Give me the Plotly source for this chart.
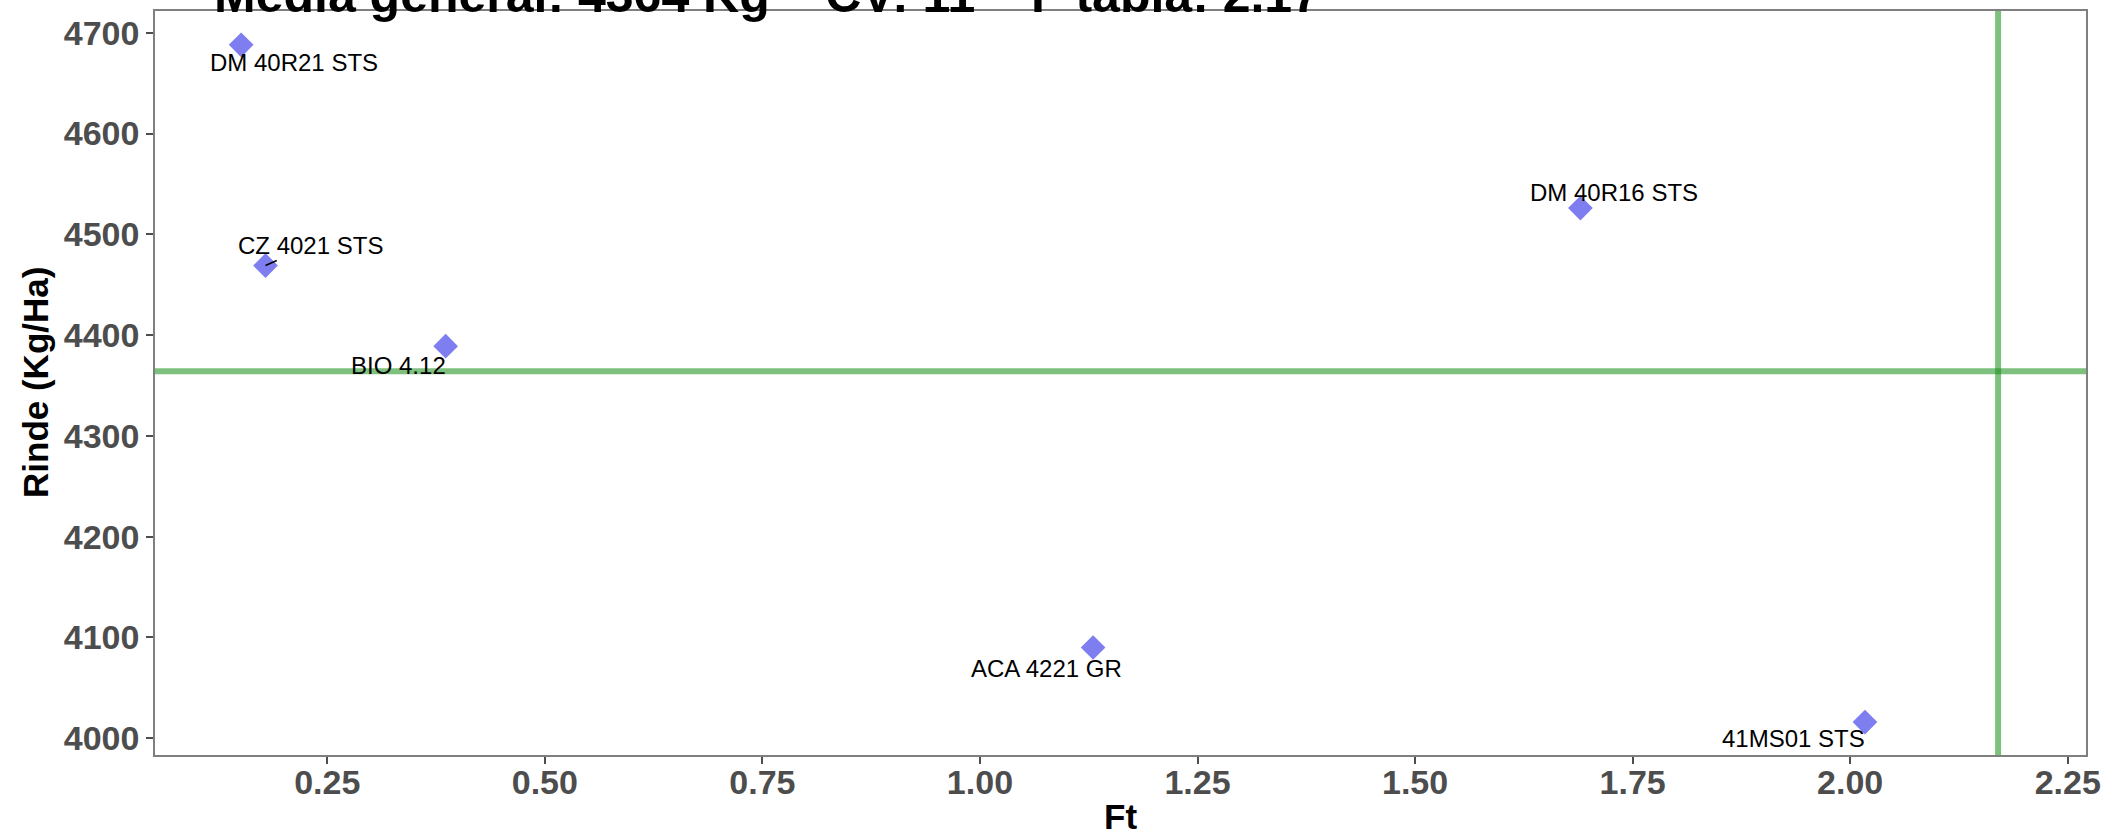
import plotly.graph_objects as go

# ---- data ----
cultivares = ["DM 40R21 STS", "CZ 4021 STS", "BIO 4.12", "ACA 4221 GR", "DM 40R16 STS", "41MS01 STS"]
ft = [0.151, 0.179, 0.386, 1.130, 1.690, 2.017]
rinde = [4688, 4469, 4389, 4090, 4526, 4016]
media_general = 4364
cv = 11
f_tabla = 2.17
x_ticks = [0.25, 0.50, 0.75, 1.00, 1.25, 1.50, 1.75, 2.00, 2.25]
y_ticks = [4000, 4100, 4200, 4300, 4400, 4500, 4600, 4700]

# ---- style / label placement (pixels) ----
label_offsets = {
    "DM 40R21 STS": (53, -18),
    "CZ 4021 STS": (45, 20),
    "BIO 4.12": (-47, -19),
    "ACA 4221 GR": (-47, -21),
    "DM 40R16 STS": (34, 16),
    "41MS01 STS": (-71, -16),
}
FONT = "Liberation Sans, Arial, sans-serif"
GREEN = "rgba(20,140,20,0.55)"
W, H = 2107, 837
M = dict(l=155, r=21, t=11, b=82)
PW, PH = W - M["l"] - M["r"], H - M["t"] - M["b"]

fig = go.Figure()
fig.add_trace(go.Scatter(
    x=ft, y=rinde, mode="markers",
    marker=dict(symbol="diamond", size=19, color="rgba(20,20,230,0.55)", line=dict(width=0)),
    hovertext=cultivares, showlegend=False,
))

fig.add_shape(type="line", xref="x", yref="paper", x0=f_tabla, x1=f_tabla, y0=0, y1=1,
              line=dict(color=GREEN, width=6), layer="below")
fig.add_shape(type="line", xref="paper", yref="y", x0=0, x1=1, y0=media_general, y1=media_general,
              line=dict(color=GREEN, width=6), layer="below")

for name, xv, yv in zip(cultivares, ft, rinde):
    dx, dy = label_offsets[name]
    if name == "CZ 4021 STS":
        fig.add_annotation(x=xv, y=yv, text=name, showarrow=True, ax=dx, ay=-dy,
                           arrowhead=0, arrowwidth=1.5, arrowcolor="black", standoff=0,
                           font=dict(family=FONT, size=24, color="black"))
    else:
        fig.add_annotation(x=xv, y=yv, text=name, showarrow=False, xshift=dx, yshift=dy,
                           font=dict(family=FONT, size=24, color="black"))

SEP = "\u00a0" * 4
titulo = f"Media general: {media_general} Kg{SEP}CV: {cv}{SEP}F tabla: {f_tabla}"
fig.add_annotation(text=titulo, xref="paper", yref="paper", x=0.0295, y=0.9815,
                   xanchor="left", yanchor="bottom", showarrow=False,
                   font=dict(family=FONT, size=50, color="black", weight="bold"))

# axis titles
fig.add_annotation(text="Ft", xref="paper", yref="paper", x=0.5, y=-61 / PH,
                   xanchor="center", yanchor="middle", showarrow=False,
                   font=dict(family=FONT, size=35, color="black", weight="bold"))
fig.add_annotation(text="Rinde (Kg/Ha)", xref="paper", yref="paper", x=(35 - M["l"]) / PW, y=0.5,
                   xanchor="center", yanchor="middle", showarrow=False, textangle=-90,
                   font=dict(family=FONT, size=35, color="black", weight="bold"))

axis_common = dict(
    showgrid=False, zeroline=False, showline=True, linecolor="#7f7f7f", linewidth=1.5, mirror=True,
    ticks="outside", ticklen=7, tickcolor="#4d4d4d", tickwidth=1.5,
    tickfont=dict(family=FONT, size=34, color="#4d4d4d", weight="bold"),
)
fig.update_xaxes(**axis_common, range=[0.052, 2.271], tickvals=x_ticks,
                 ticktext=[f"{v:.2f}" for v in x_ticks], ticklabelstandoff=-11)
fig.update_yaxes(**axis_common, range=[3983.3, 4721.6], tickvals=y_ticks,
                 ticktext=[str(v) for v in y_ticks])

fig.update_layout(
    width=W, height=H,
    margin=dict(**M, autoexpand=False),
    plot_bgcolor="white", paper_bgcolor="white",
)
fig.write_html("out.html", config={"displayModeBar": False},
               post_script="document.body.style.margin='0';")
